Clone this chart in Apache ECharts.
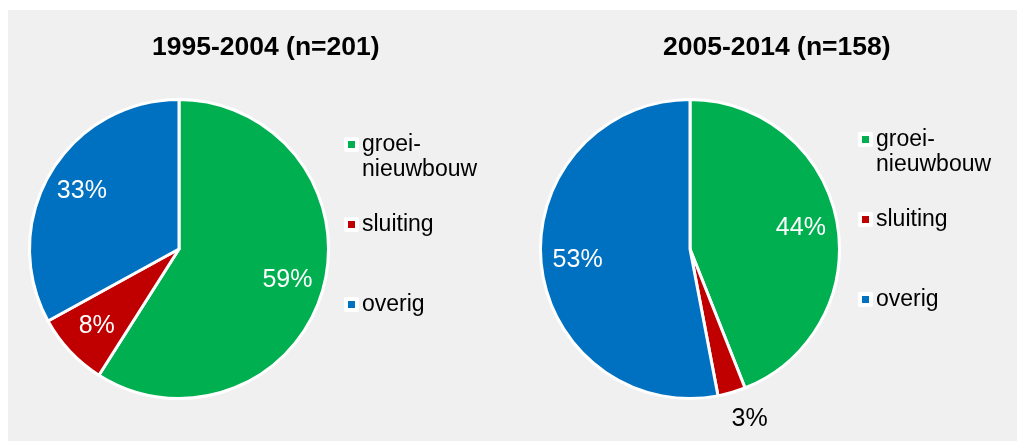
<!DOCTYPE html>
<html>
<head>
<meta charset="utf-8">
<script src="https://cdn.jsdelivr.net/npm/echarts@6/dist/echarts.min.js"></script>
<style>
html, body { margin: 0; padding: 0; background: #fff; }
#panel { position: absolute; left: 8px; top: 10px; width: 1009px; height: 431px; background: #f0f0f0; }
#main { position: absolute; left: 0; top: 0; width: 1017px; height: 441px; }
</style>
</head>
<body>
<div id="panel"></div>
<div id="main"></div>
<script>
// data
var categories = ['groei-\nnieuwbouw', 'sluiting', 'overig'];
var values1995 = [59, 8, 33];
var values2005 = [44, 3, 53];
var titles = ['1995-2004 (n=201)', '2005-2014 (n=158)'];
var colors = ['#00b050', '#c00000', '#0070c0'];

var font = "'Liberation Sans', Arial, sans-serif";
var centers = [[179, 249], [690, 249]];
var R = 149.5;

function pieData(values) {
    return values.map(function (v, i) {
        return { name: categories[i], value: v, itemStyle: { color: colors[i] } };
    });
}

// invisible ring on top that only carries the % labels (ECharts puts inside labels at mid radius)
function labelData(values) {
    return values.map(function (v, i) {
        var d = { name: categories[i], value: v };
        if (v < 5) {
            d.label = {
                position: 'outside',
                color: '#000',
                distanceToLabelLine: -8
            };
            d.labelLine = { show: false, length: 28, length2: 0 };
        }
        return d;
    });
}

// symmetric paddings only set the spacing between legend rows
var legendPads = [0, 30, 25];
function legendData() {
    return categories.map(function (c, i) {
        var p = legendPads[i];
        return {
            name: c,
            textStyle: { padding: [p, 0, p, 0], backgroundColor: 'rgba(0,0,0,0)' }
        };
    });
}

function legend(left, top) {
    return {
        orient: 'vertical',
        left: left,
        top: top,
        padding: 0,
        itemGap: 0,
        itemWidth: 11,
        itemHeight: 11,
        icon: 'rect',
        selectedMode: false,
        itemStyle: { borderColor: '#fff', borderWidth: 4 },
        // empty first line so that the icon sits next to the first word
        formatter: function (name) {
            return name.indexOf('\n') >= 0 ? '\n' + name : name;
        },
        textStyle: { fontFamily: font, fontSize: 23, lineHeight: 25, color: '#000' },
        data: legendData()
    };
}

function mainSeries(values, k) {
    return {
        type: 'pie',
        center: centers[k],
        radius: R,
        startAngle: 90,
        clockwise: true,
        silent: true,
        itemStyle: { borderColor: '#fff', borderWidth: 3 },
        label: { show: false },
        labelLine: { show: false },
        data: pieData(values)
    };
}

function labelSeries(values, k) {
    return {
        type: 'pie',
        center: centers[k],
        radius: [R * 0.47, R],
        startAngle: 90,
        clockwise: true,
        silent: true,
        avoidLabelOverlap: false,
        itemStyle: { color: 'rgba(0,0,0,0)', borderWidth: 0 },
        label: {
            show: true,
            position: 'inside',
            formatter: '{c}%',
            color: '#fff',
            fontFamily: font,
            fontSize: 25
        },
        labelLine: { show: false },
        data: labelData(values)
    };
}

var titleStyle = { fontFamily: font, fontSize: 26.5, fontWeight: 'bold', color: '#000' };

var myChart = echarts.init(document.getElementById('main'));
var option = {
    backgroundColor: 'transparent',
    animation: false,
    title: [
        { text: titles[0], left: 152, top: 34, padding: 0, textStyle: titleStyle },
        { text: titles[1], left: 663, top: 34, padding: 0, textStyle: titleStyle }
    ],
    legend: [legend(344, 107), legend(858, 102)],
    series: [
        mainSeries(values1995, 0),
        mainSeries(values2005, 1),
        labelSeries(values1995, 0),
        labelSeries(values2005, 1)
    ]
};
myChart.setOption(option);
</script>
</body>
</html>
